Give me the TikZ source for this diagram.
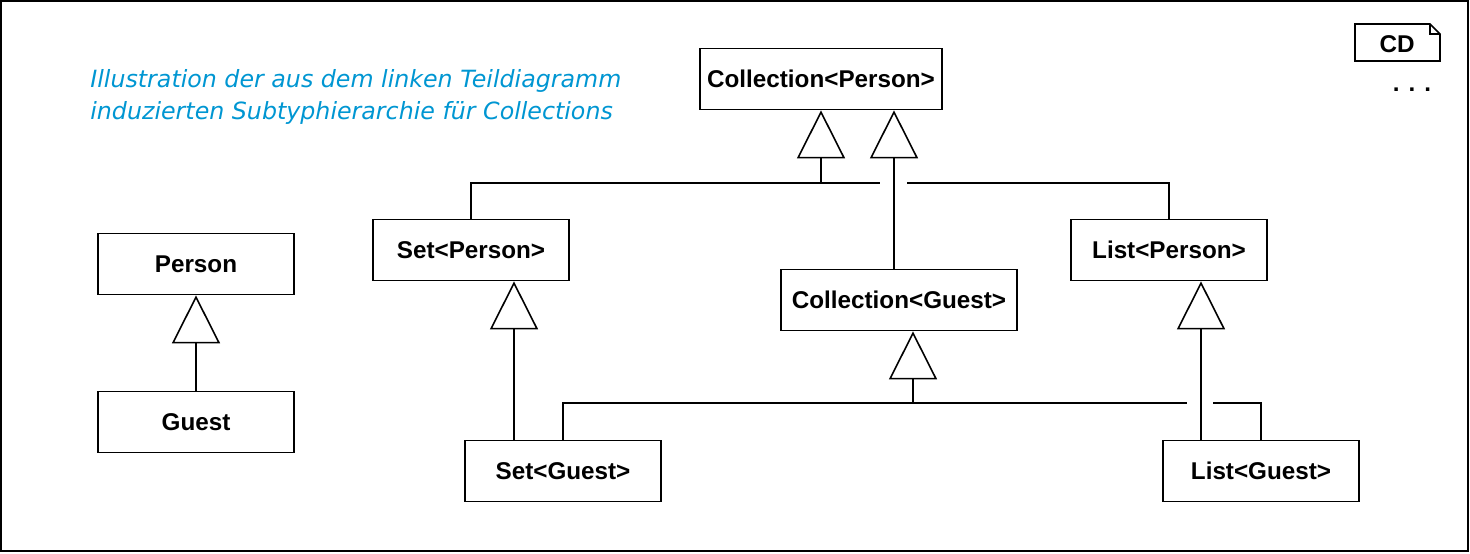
\documentclass[tikz,border=0pt]{standalone}
\usepackage{fontspec}
\setmainfont{Liberation Sans}
\newfontfamily\notefont{DejaVu Sans}
\usepackage{tikz}
\usetikzlibrary{arrows.meta,positioning,calc}
\definecolor{noteblue}{RGB}{0,150,210}

\begin{document}
\begin{tikzpicture}[
    x=0.02cm, y=-0.02cm,
    classbox/.style={draw, line width=1pt, minimum width=3.92cm, minimum height=1.22cm, inner sep=0pt, font=\bfseries\fontsize{13.8}{16}\selectfont},
    gen/.style={-{Triangle[open, length=0.96cm, width=0.96cm, line width=0.9pt]}, line width=0.9pt},
    link/.style={line width=0.9pt}
]
\useasboundingbox (0,0) rectangle (1470,554);
\draw[line width=0.9pt] (1,1) rectangle (1468,551);

% the note
\node[anchor=west, inner sep=0pt, align=left, text=noteblue, font=\notefont\itshape\fontsize{13.5}{18.2}\selectfont] (note) at (90,97)
    {Illustration der aus dem linken Teildiagramm\\induzierten Subtyphierarchie für Collections};

% CD tag
\draw[line width=0.9pt] (1355,24) -- (1430,24) -- (1440,34) -- (1440,61) -- (1355,61) -- cycle;
\draw[line width=0.7pt] (1430,24) -- (1430,34) -- (1440,34);
\node[font=\bfseries\fontsize{13.8}{16}\selectfont] (cd) at (1397,44) {CD};
\node[font=\bfseries\fontsize{13.8}{16}\selectfont] (more) at (1412,90) {. . .};

% classes
\node[classbox] (person) at (196,264) {Person};
\node[classbox] (guest) at (196,422) {Guest};
\node[classbox, minimum width=4.84cm] (cperson) at (821,79) {Collection<Person>};
\node[classbox] (setperson) at (471,250) {Set<Person>};
\node[classbox] (listperson) at (1169,250) {List<Person>};
\node[classbox, minimum width=4.72cm] (cguest) at (899,300) {Collection<Guest>};
\node[classbox] (setguest) at (563,471) {Set<Guest>};
\node[classbox] (listguest) at (1261,471) {List<Guest>};

% junctions and gaps
\coordinate (top) at (821,183);
\coordinate (topgapl) at (880,183);
\coordinate (topgapr) at (907,183);
\coordinate (bot) at (913,403);
\coordinate (botgapl) at (1187,403);
\coordinate (botgapr) at (1213,403);

\draw[gen] (guest.north) -- (person.south);
\draw[gen] (top) -- (top |- cperson.south);
\draw[link] (setperson.north) |- (topgapl);
\draw[link] (listperson.north) |- (topgapr);
\draw[gen] ([xshift=-0.1cm]cguest.north) -- ([xshift=-0.1cm]cguest.north |- cperson.south);
\draw[gen] ([xshift=-0.98cm]setguest.north) -- ([xshift=-0.98cm]setguest.north |- setperson.south);
\draw[gen] ([xshift=-1.2cm]listguest.north) -- ([xshift=-1.2cm]listguest.north |- listperson.south);
\draw[gen] (bot) -- (bot |- cguest.south);
\draw[link] (setguest.north) |- (botgapl);
\draw[link] (listguest.north) |- (botgapr);

\end{tikzpicture}
\end{document}
